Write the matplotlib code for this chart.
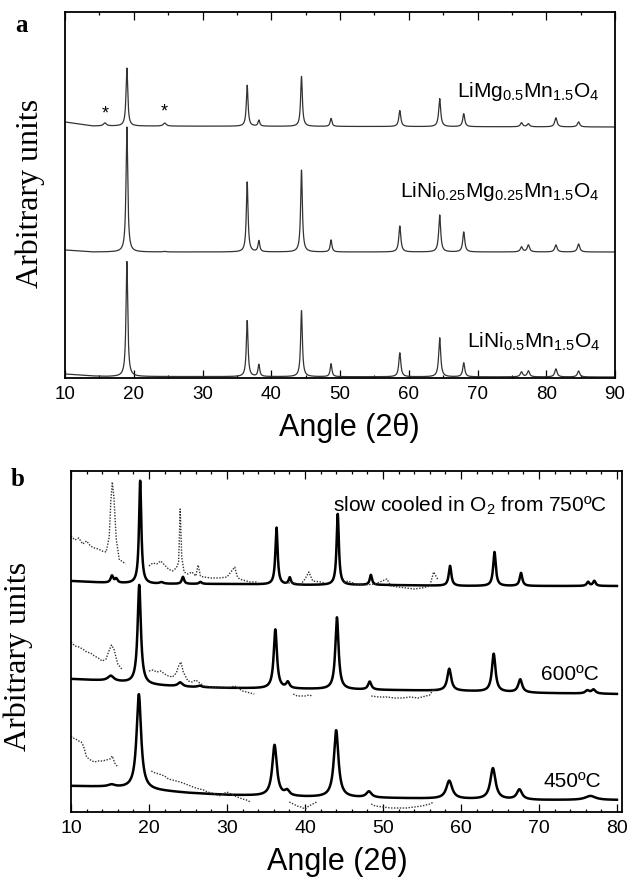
import numpy as np
import matplotlib
matplotlib.use("Agg")
import matplotlib.pyplot as plt
from matplotlib.ticker import MultipleLocator

plt.rcParams["font.family"] = ["Liberation Sans", "DejaVu Sans"]
plt.rcParams["mathtext.fontset"] = "custom"
plt.rcParams["mathtext.rm"] = "Liberation Sans"
plt.rcParams["mathtext.it"] = "Liberation Sans:italic"
plt.rcParams["mathtext.bf"] = "Liberation Sans:bold"

# ---------------- panel a: peak lists ----------------
# (y units are arbitrary, stacked offsets; peak heights above local background)
peaks_a = [15.8, 19.0, 24.5, 36.5, 38.2, 44.4, 48.7, 58.7, 64.5, 68.0, 76.4, 77.4, 81.4, 84.7]
fwhm_a = [0.5, 0.3, 0.5, 0.3, 0.3, 0.3, 0.3, 0.35, 0.35, 0.35, 0.4, 0.4, 0.4, 0.4]
heights_mg = [3, 58, 3, 41, 6, 50, 8, 16, 28, 13, 4, 3, 9, 5]
heights_nimg = [0, 125, 0.5, 70, 11, 82, 12, 26, 37, 20, 5, 7, 7, 8]
heights_ni = [0, 115, 0, 56, 12, 66, 13, 24, 39, 14, 5, 6, 8, 6]

bg_a_x = [10, 12, 14, 16, 90]
bg_mg = [256, 254, 252, 252, 251]
bg_nimg = [128, 127, 126, 126, 126]
bg_ni = [4, 3, 2, 1.5, 1]

labels_a = [r"LiMg$_{0.5}$Mn$_{1.5}$O$_4$",
            r"LiNi$_{0.25}$Mg$_{0.25}$Mn$_{1.5}$O$_4$",
            r"LiNi$_{0.5}$Mn$_{1.5}$O$_4$"]
label_a_y = [281, 181, 30]
star_x = [15.8, 24.5]
star_y = [264, 266]

# ---------------- panel b ----------------
peaks_slow = [15.25, 15.8, 18.87, 21.6, 24.35, 26.6, 36.35, 38.05, 44.2, 48.45, 58.6, 64.3, 67.7, 76.3, 77.1]
heights_slow = [7, 4, 103, 1.5, 7, 2, 57, 7, 71, 10, 20, 34, 13, 4, 5]
fwhm_slow = [0.4, 0.4, 0.35, 0.6, 0.35, 0.4, 0.35, 0.35, 0.35, 0.35, 0.4, 0.4, 0.4, 0.4, 0.4]

peaks_600 = [15.1, 18.75, 24.0, 26.5, 36.2, 37.8, 44.1, 48.3, 58.5, 64.2, 67.6, 76.2, 77.0]
heights_600 = [5, 99, 4, 1.5, 59, 6, 72, 8, 22, 38, 13, 3, 4]
fwhm_600 = [0.9, 0.5, 0.7, 0.6, 0.5, 0.5, 0.5, 0.5, 0.6, 0.55, 0.6, 0.6, 0.6]

peaks_450 = [15.2, 18.7, 36.1, 37.7, 44.0, 48.2, 58.5, 64.1, 67.5, 76.6]
heights_450 = [2, 95, 51, 5, 67, 6, 18, 31, 10, 4]
fwhm_450 = [1.0, 0.7, 0.7, 0.7, 0.7, 0.8, 0.9, 0.8, 0.8, 1.6]

bg_b_x = [10, 15, 20, 25, 30, 40, 50, 60, 70, 80]
bg_slow = [231, 229, 228, 228, 228, 227, 227, 226, 226, 226]
bg_600 = [133, 131, 127, 125, 124, 123, 122, 121, 119, 118]
bg_450 = [26, 25, 22, 19, 17, 15, 14, 13, 12, 12]

# dotted (magnified) traces, segments split by NaN
dot_slow_x = [10, 10.5, 11, 11.5, 12, 12.5, 13, 13.5, 14, 14.5, 14.9, 15.1, 15.3, 15.5, 15.8, 16.2, 16.5, 17.0, np.nan,
              20, 20.5, 21, 21.5, 22, 22.5, 23, 23.5, 23.8, 24.0, 24.2, 24.5, 25, 25.5, 26, 26.3, 26.6, 27, 28, 29,
              30, 30.5, 31, 31.3, 31.6, 32, 33, 34, np.nan,
              37.5, 38.5, 39.5, 40, 40.5, 41, 42, 42.5, np.nan,
              45, 45.5, 46.5, 47.5, 49, 50.5, 51, 52, 53, 54, 55, 56, 56.5, 57]
dot_slow_y = [276, 272, 274, 268, 271, 266, 264, 263, 261, 260, 275, 310, 330, 315, 273, 252, 251, 248, np.nan,
              246, 249, 248, 251, 247, 243, 241, 244, 250, 303, 255, 240, 238, 240, 236, 247, 236, 235, 234, 234,
              235, 240, 245, 236, 233, 232, 230, 230, np.nan,
              229, 229, 228, 233, 240, 231, 230, 229, np.nan,
              229, 231, 228, 227, 228, 233, 226, 225, 224, 223, 224, 226, 240, 233]

dot_600_x = [10, 10.5, 11, 11.5, 12, 12.5, 13, 13.5, 14, 14.5, 14.8, 15.2, 15.5, 16, 16.5, np.nan,
             20, 20.5, 21, 21.5, 22, 22.5, 23, 23.5, 23.8, 24.1, 24.4, 25, 25.5, 26, 27, 28, 29, 30, 31, 32, 33, 33.5,
             np.nan, 38.5, 39, 40, 40.5, 41, np.nan,
             48.5, 49.5, 50.5, 51.5, 52.5, 53.5, 54.5, 55.5, 56, 56.5, 57]
dot_600_y = [170, 166, 165, 163, 160, 159, 156, 154, 151, 153, 160, 167, 163, 148, 143, np.nan,
             141, 142, 140, 141, 138, 136, 135, 139, 146, 150, 140, 131, 130, 132, 126, 125, 124, 124, 126, 121, 119, 118,
             np.nan, 118, 116, 116, 117, 116, np.nan,
             116, 115, 115, 114, 114, 115, 114, 116, 117, 123, 121]

dot_450_x = [10, 10.3, 10.6, 11, 11.3, 11.6, 12, 12.5, 13, 13.5, 14, 14.5, 15, 15.3, 15.6, 16, np.nan,
             20.3, 20.8, 21.3, 22, 22.5, 23, 23.5, 24, 25, 26, 27, 27.5, 28.5, 29, 30, 30.5, 31, 32, 32.5, 33,
             np.nan, 38, 38.5, 39, 39.5, 40, 40.5, 41, 41.5, np.nan,
             48.5, 49, 50, 51, 52, 53, 54, 55, 56, 56.5]
dot_450_y = [76, 74, 73, 71, 70, 66, 55, 52, 50, 51, 51, 52, 53, 56, 49, 45, np.nan,
             41, 39, 38, 36, 33, 32, 31, 30, 27, 24, 22, 20, 18, 16, 20, 18, 16, 13, 12, 10,
             np.nan, 10, 8, 6, 5, 3, 6, 8, 10, np.nan,
             8, 6, 5, 4, 4, 4, 5, 6, 8, 10]

labels_b = ["slow cooled in O$_2$ from 750ºC", "600ºC", "450ºC"]
label_b_x = [78.7, 77.7, 77.95]
label_b_y = [300, 132, 25]


def pattern(x, bg_x, bg_y, pos, height, fwhm):
    """background (read points) + Lorentzian peaks"""
    y = np.interp(x, bg_x, bg_y)
    for p, h, w in zip(pos, height, fwhm):
        g = w / 2.0
        y = y + h * g ** 2 / ((x - p) ** 2 + g ** 2)
    return y


def style_axis(ax, major, minor, fs):
    ax.xaxis.set_major_locator(MultipleLocator(major))
    ax.xaxis.set_minor_locator(MultipleLocator(minor))
    ax.tick_params(axis="x", which="both", direction="in", top=True, bottom=True,
                   labelsize=fs, pad=6, width=0.9)
    ax.tick_params(axis="x", which="major", length=5.5)
    ax.tick_params(axis="x", which="minor", length=2.5)
    ax.set_yticks([])
    for s in ax.spines.values():
        s.set_linewidth(1.3)


fig = plt.figure(figsize=(6.28, 8.8), dpi=100)

# ---- panel a ----
ax1 = fig.add_axes([65 / 628, 1 - 378 / 880, 550 / 628, 366 / 880])
xa = np.linspace(10, 90, 6000)
for bg, h in [(bg_mg, heights_mg), (bg_nimg, heights_nimg), (bg_ni, heights_ni)]:
    ax1.plot(xa, pattern(xa, bg_a_x, bg, peaks_a, h, fwhm_a), color="#333333", lw=0.9)
for lab, ly in zip(labels_a, label_a_y):
    ax1.text(87.8, ly, lab, fontsize=15, ha="right", va="baseline")
for sx, sy in zip(star_x, star_y):
    ax1.text(sx, sy, "*", fontsize=13, ha="center", va="center")
ax1.set_xlim(10, 90)
ax1.set_ylim(0, 366)
style_axis(ax1, 10, 5, 13.5)

# ---- panel b ----
ax2 = fig.add_axes([71 / 628, 1 - 812 / 880, 551 / 628, 341 / 880])
xb = np.linspace(10, 80, 6000)
for bg, pos, h, w in [(bg_slow, peaks_slow, heights_slow, fwhm_slow),
                      (bg_600, peaks_600, heights_600, fwhm_600),
                      (bg_450, peaks_450, heights_450, fwhm_450)]:
    ax2.plot(xb, pattern(xb, bg_b_x, bg, pos, h, w), color="black", lw=1.8)
for dx, dy in [(dot_slow_x, dot_slow_y), (dot_600_x, dot_600_y), (dot_450_x, dot_450_y)]:
    ax2.plot(dx, dy, color="#333333", lw=1.0, linestyle=(0, (1, 1.1)))
for lab, lx, ly in zip(labels_b, label_b_x, label_b_y):
    ax2.text(lx, ly, lab, fontsize=15, ha="right", va="baseline")
ax2.set_xlim(10, 80.65)
ax2.set_ylim(0, 341)
style_axis(ax2, 10, 2, 14)

# ---- figure-level texts ----
fig.text(349 / 628, 1 - 428 / 880, "Angle (2θ)", fontsize=22, ha="center", va="center")
fig.text(337 / 628, 1 - 862 / 880, "Angle (2θ)", fontsize=22, ha="center", va="center")
fig.text(30 / 628, 1 - 193 / 880, "Arbitrary units", family="Liberation Serif",
         fontsize=23, rotation=90, ha="center", va="center")
fig.text(18 / 628, 1 - 656 / 880, "Arbitrary units", family="Liberation Serif",
         fontsize=23, rotation=90, ha="center", va="center")
fig.text(21 / 628, 1 - 26 / 880, "a", family="Liberation Serif", fontweight="bold",
         fontsize=18, ha="center", va="center")
fig.text(18 / 628, 1 - 480 / 880, "b", family="Liberation Serif", fontweight="bold",
         fontsize=18, ha="center", va="center")

fig.savefig("out.png", dpi=100)
plt.close(fig)
